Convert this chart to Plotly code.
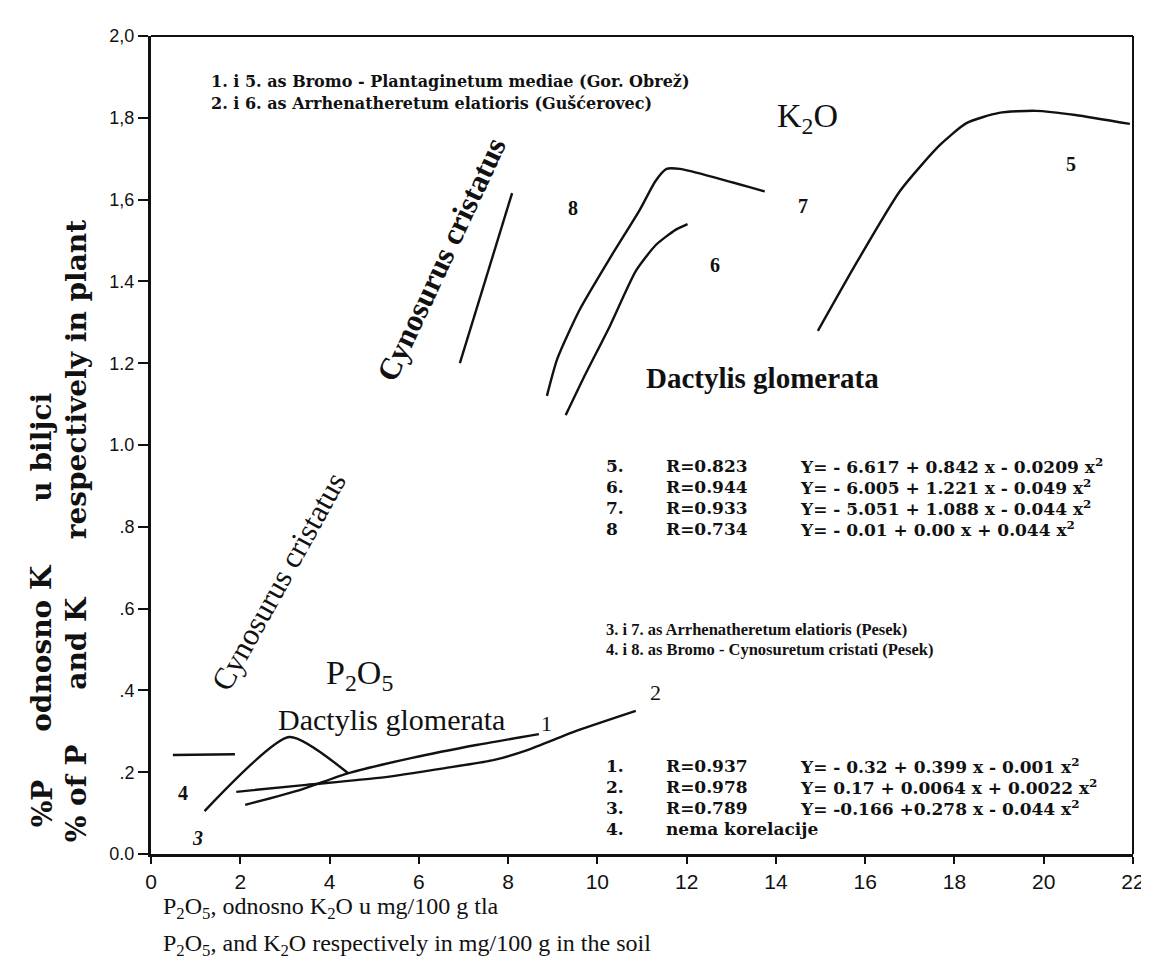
import plotly.graph_objects as go

# ---------------- data ----------------
# K2O curves (x: K2O in mg/100 g soil, y: % K in plant)
x_5 = [14.94, 15.83, 16.78, 17.67, 18.27, 19.00, 19.82, 20.71, 21.93]
y_5 = [1.279, 1.450, 1.621, 1.733, 1.787, 1.812, 1.817, 1.807, 1.785]
x_6 = [9.29, 9.69, 10.29, 10.86, 11.31, 11.75, 12.02]
y_6 = [1.073, 1.164, 1.293, 1.425, 1.489, 1.526, 1.540]
x_7 = [8.87, 9.10, 9.60, 10.30, 10.95, 11.30, 11.55, 11.85, 12.70, 13.75]
y_7 = [1.120, 1.210, 1.330, 1.460, 1.575, 1.645, 1.675, 1.675, 1.652, 1.620]
x_8 = [6.92, 8.09]
y_8 = [1.200, 1.616]
# P2O5 curves (x: P2O5 in mg/100 g soil, y: % P in plant)
x_1 = [2.11, 3.33, 4.37, 5.85, 7.32, 8.69]
y_1 = [0.120, 0.156, 0.196, 0.235, 0.267, 0.293]
x_2 = [1.91, 3.48, 5.10, 6.59, 7.69, 8.43, 9.53, 10.86]
y_2 = [0.152, 0.169, 0.186, 0.210, 0.230, 0.254, 0.301, 0.350]
x_3 = [1.20, 3.10, 4.41]
y_3 = [0.105, 0.286, 0.198]
x_4 = [0.49, 1.88]
y_4 = [0.242, 0.244]

curves = [(x_1, y_1), (x_2, y_2), (x_3, y_3), (x_4, y_4),
          (x_5, y_5), (x_6, y_6), (x_7, y_7), (x_8, y_8)]

x_tickvals = [0, 2, 4, 6, 8, 10, 12, 14, 16, 18, 20, 22]
x_ticktext = ["0", "2", "4", "6", "8", "10", "12", "14", "16", "18", "20", "22"]
y_tickvals = [0.0, 0.2, 0.4, 0.6, 0.8, 1.0, 1.2, 1.4, 1.6, 1.8, 2.0]
y_ticktext = ["0.0", ".2", ".4", ".6", ".8", "1.0", "1.2", "1.4", "1,6", "1,8", "2,0"]

k_eq_num = ["5.", "6.", "7.", "8"]
k_eq_r = ["R=0.823", "R=0.944", "R=0.933", "R=0.734"]
k_eq_y = ["Y= - 6.617 + 0.842 x - 0.0209 x<sup>2</sup>",
          "Y= - 6.005 + 1.221 x - 0.049 x<sup>2</sup>",
          "Y= - 5.051 + 1.088 x - 0.044 x<sup>2</sup>",
          "Y= - 0.01 + 0.00 x + 0.044 x<sup>2</sup>"]
p_eq_num = ["1.", "2.", "3.", "4."]
p_eq_r = ["R=0.937", "R=0.978", "R=0.789", "nema korelacije"]
p_eq_y = ["Y= - 0.32 + 0.399 x - 0.001 x<sup>2</sup>",
          "Y= 0.17 + 0.0064 x + 0.0022 x<sup>2</sup>",
          "Y= -0.166 +0.278 x - 0.044 x<sup>2</sup>",
          ""]

# ---------------- figure ----------------
SERIF = "Liberation Serif, Times New Roman, serif"
WIDE = "DejaVu Serif, Liberation Serif, serif"
SANS = "Liberation Sans, Arial, sans-serif"
INK = "#111111"

fig = go.Figure()
for cx, cy in curves:
    fig.add_trace(go.Scatter(x=cx, y=cy, mode="lines",
                             line=dict(color=INK, width=2.4, shape="spline", smoothing=0.6),
                             showlegend=False, hoverinfo="skip"))

ann = []


def txt(x, y, text, size, bold=False, xanchor="center", yanchor="middle", angle=0,
        font=SERIF, ref="x"):
    t = f"<b>{text}</b>" if bold else text
    ann.append(dict(x=x, y=y, xref="x" if ref == "x" else "paper",
                    yref="y" if ref == "x" else "paper", text=t, showarrow=False,
                    xanchor=xanchor, yanchor=yanchor, textangle=angle,
                    font=dict(family=font, size=size, color=INK)))


# header legend texts
txt(1.30, 1.888, "1. i 5. as Bromo - Plantaginetum mediae (Gor. Obrež)", 16, True, "left", font=WIDE)
txt(1.30, 1.836, "2. i 6. as Arrhenatheretum elatioris (Gušćerovec)", 16, True, "left", font=WIDE)
txt(14.70, 1.800, "K<sub>2</sub>O", 34)
txt(9.45, 1.579, "8", 20, True)
txt(14.60, 1.584, "7", 20, True)
txt(12.64, 1.440, "6", 20, True)
txt(20.62, 1.687, "5", 20, True)
txt(6.50, 1.454, "Cynosurus cristatus", 31, True, angle=-65)
txt(13.70, 1.164, "Dactylis glomerata", 29, True)

rows_k = [0.949, 0.897, 0.846, 0.795]
for i in range(4):
    txt(10.14, rows_k[i], k_eq_num[i], 17, True, "left", font=WIDE)
    txt(11.50, rows_k[i], k_eq_r[i], 17, True, "left", font=WIDE)
    txt(14.50, rows_k[i], k_eq_y[i], 17, True, "left", font=WIDE)

txt(10.14, 0.550, "3. i 7. as Arrhenatheretum elatioris (Pesek)", 16.5, True, "left")
txt(10.14, 0.499, "4. i 8. as Bromo - Cynosuretum cristati (Pesek)", 16.5, True, "left")

rows_p = [0.215, 0.164, 0.112, 0.061]
for i in range(4):
    txt(10.14, rows_p[i], p_eq_num[i], 17, True, "left", font=WIDE)
    txt(11.50, rows_p[i], p_eq_r[i], 17, True, "left", font=WIDE)
    if p_eq_y[i]:
        txt(14.50, rows_p[i], p_eq_y[i], 17, True, "left", font=WIDE)

txt(2.86, 0.666, "Cynosurus cristatus", 31, False, angle=-61)
txt(4.66, 0.438, "P<sub>2</sub>O<sub>5</sub>", 34)
txt(5.39, 0.328, "Dactylis glomerata", 30)
txt(8.87, 0.320, "1", 22)
txt(11.31, 0.394, "2", 22)
txt(0.71, 0.149, "4", 20, True)
txt(1.04, 0.039, "<i>3</i>", 20, True)

# axis titles (paper coordinates, outside the plotting area)
txt(0.010, -0.066, "P<sub>2</sub>O<sub>5</sub>, odnosno K<sub>2</sub>O u mg/100 g tla", 24, False,
    "left", ref="paper")
txt(0.010, -0.111, "P<sub>2</sub>O<sub>5</sub>, and K<sub>2</sub>O respectively in mg/100 g in the soil",
    24, False, "left", ref="paper")
txt(-0.111, 0.062, "%P", 28, True, angle=-90, font=WIDE, ref="paper")
txt(-0.111, 0.252, "odnosno K", 28, True, angle=-90, font=WIDE, ref="paper")
txt(-0.111, 0.498, "u biljci", 28, True, angle=-90, font=WIDE, ref="paper")
txt(-0.0756, 0.074, "% of P", 28, True, angle=-90, font=WIDE, ref="paper")
txt(-0.0756, 0.258, "and K", 28, True, angle=-90, font=WIDE, ref="paper")
txt(-0.0756, 0.580, "respectively in plant", 28, True, angle=-90, font=WIDE, ref="paper")

fig.update_layout(
    width=1149, height=966,
    margin=dict(l=143, r=14, t=28, b=120),
    paper_bgcolor="white", plot_bgcolor="white",
    annotations=ann,
    shapes=[
        dict(type="line", xref="paper", yref="paper", x0=0, x1=1, y0=1, y1=1,
             line=dict(color=INK, width=2)),
        dict(type="line", xref="paper", yref="paper", x0=1, x1=1, y0=0, y1=1,
             line=dict(color=INK, width=2)),
    ],
)
fig.update_xaxes(range=[0, 22], tickvals=x_tickvals, ticktext=x_ticktext,
                 showgrid=False, zeroline=False, showline=True, linecolor=INK, linewidth=3,
                 ticks="outside", ticklen=7, tickwidth=2, tickcolor=INK,
                 tickfont=dict(family="Liberation Sans Narrow, " + SANS, size=21, color=INK))
fig.update_yaxes(range=[0, 2.0], tickvals=y_tickvals, ticktext=y_ticktext,
                 showgrid=False, zeroline=False, showline=True, linecolor=INK, linewidth=3,
                 ticks="outside", ticklen=10, tickwidth=2, tickcolor=INK,
                 tickfont=dict(family=SANS, size=18, color=INK))

fig.write_html("out.html")
